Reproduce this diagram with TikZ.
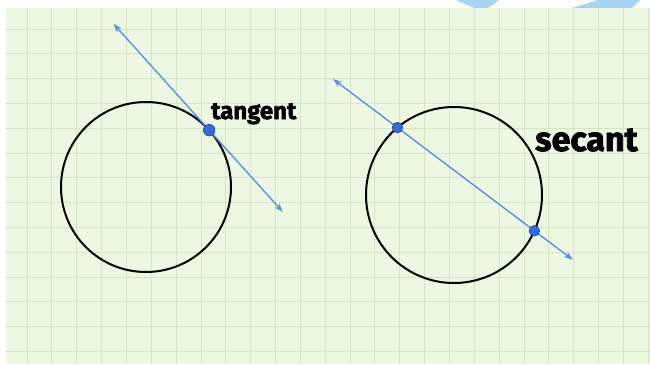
\documentclass[tikz,border=0pt]{standalone}
\usepackage{fontspec}
\setmainfont{Fira Sans}
\newfontfamily\heavyfont{Fira Sans}[FakeBold=2.2,UprightFont=* Bold]
\usepackage{tikz}
\usetikzlibrary{arrows.meta,calc}
\definecolor{paperGreen}{HTML}{ECF8E0}
\definecolor{gridGreen}{HTML}{D2E6C4}
\definecolor{lineBlue}{HTML}{5B8DEF}
\definecolor{dotBlue}{HTML}{2E6BE6}
\definecolor{dotEdge}{HTML}{1B3E8C}
\definecolor{markBlue}{HTML}{A7D3F7}

\begin{document}
\begin{tikzpicture}[x=1pt,y=-1pt,
  gridline/.style={gridGreen,line width=0.9pt},
  circ/.style={black,line width=2pt},
  ray/.style={lineBlue,line width=1.4pt,{Stealth[open,length=9pt,width=6.5pt]}-{Stealth[open,length=9pt,width=6.5pt]}},
  dot/.style={circle,fill=dotBlue,draw=dotEdge,line width=0.6pt,inner sep=0pt,minimum size=#1},
  lbl/.style={inner sep=0pt,anchor=base west}]
\def\rT{85pt}
\def\rS{88pt}
\useasboundingbox (0,0) rectangle (650,364);
\fill[white] (0,0) rectangle (650,364);
\fill[markBlue] (456,0) -- (499,0) -- (488,8) -- (474,8) -- cycle;
\fill[markBlue] (598,0) -- (640,0) -- (632,8) -- (572,8) -- cycle;
\begin{scope}
  \clip (6,8) rectangle (650,364);
  \fill[paperGreen] (6,8) rectangle (650,364);
  \foreach \i in {-1,...,25} \draw[gridline] ({27+24.85*\i},8) -- ({27+24.85*\i},364);
  \foreach \j in {-1,...,14} \draw[gridline] (6,{29+24.8*\j}) -- (650,{29+24.8*\j});
\end{scope}
% tangent
\coordinate (lc) at (146,187);
\draw[circ] (lc) circle (\rT);
\coordinate (tP) at ($(lc)+(42:\rT)$);
\coordinate (tA) at ($(tP)+(132:143pt)$);
\coordinate (tB) at ($(tP)+(-48:110pt)$);
\draw[ray] (tA) -- (tB);
\node[dot=11.5pt] (tangentDot) at (tP) {};
\node[lbl,font=\heavyfont\fontsize{24}{24}\selectfont] (tangentLbl) at (211,119) {tangent};
% secant
\coordinate (rc) at (454,195);
\draw[circ] (rc) circle (\rS);
\coordinate (s1) at ($(rc)+(130:\rS)$);
\coordinate (s2) at ($(rc)+(-24:\rS)$);
\coordinate (sA) at ($(s1)!-0.47!(s2)$);
\coordinate (sB) at ($(s2)!-0.28!(s1)$);
\draw[ray] (sA) -- (sB);
\node[dot=10.5pt] (secantDotA) at (s1) {};
\node[dot=10.5pt] (secantDotB) at (s2) {};
\node[lbl,font=\heavyfont\fontsize{34}{34}\selectfont] (secantLbl) at (535,151) {secant};
\end{tikzpicture}
\end{document}
